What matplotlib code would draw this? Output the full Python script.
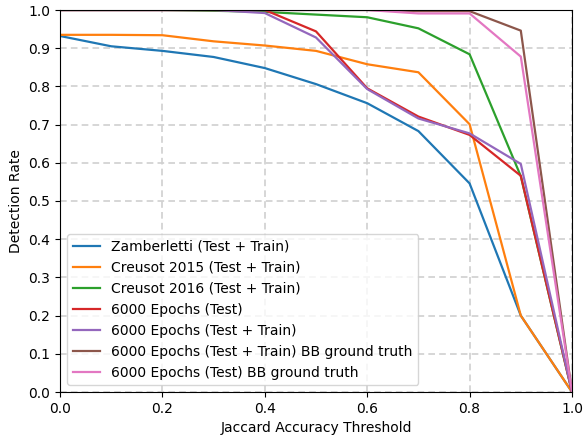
import matplotlib
matplotlib.use("Agg")
import matplotlib.pyplot as plt

thresholds = [0.0, 0.1, 0.2, 0.3, 0.4, 0.5, 0.6, 0.7, 0.8, 0.9, 1.0]

zamberletti = [0.932, 0.905, 0.893, 0.877, 0.848, 0.806, 0.756, 0.683, 0.546, 0.200, 0.0]
creusot2015 = [0.935, 0.935, 0.934, 0.918, 0.907, 0.893, 0.858, 0.837, 0.701, 0.200, 0.0]
creusot2016 = [1.0, 1.0, 1.0, 0.998, 0.995, 0.988, 0.981, 0.952, 0.884, 0.565, 0.0]
ep_test = [1.0, 1.0, 1.0, 1.0, 1.0, 0.944, 0.795, 0.721, 0.673, 0.566, 0.0]
ep_testtrain = [1.0, 1.0, 1.0, 1.0, 0.992, 0.928, 0.793, 0.716, 0.677, 0.597, 0.0]
ep_testtrain_bb = [1.0, 1.0, 1.0, 1.0, 1.0, 1.0, 1.0, 0.997, 0.997, 0.946, 0.0]
ep_test_bb = [1.0, 1.0, 1.0, 1.0, 1.0, 1.0, 1.0, 0.991, 0.991, 0.878, 0.0]

labels = [
    "Zamberletti (Test + Train)",
    "Creusot 2015 (Test + Train)",
    "Creusot 2016 (Test + Train)",
    "6000 Epochs (Test)",
    "6000 Epochs (Test + Train)",
    "6000 Epochs (Test + Train) BB ground truth",
    "6000 Epochs (Test) BB ground truth",
]
series = [zamberletti, creusot2015, creusot2016, ep_test, ep_testtrain, ep_testtrain_bb, ep_test_bb]

fig = plt.figure(figsize=(5.84, 4.41), dpi=100)
ax = fig.add_axes([60/584, 1 - 392/441, 512/584, 382/441])
for s, l in zip(series, labels):
    ax.plot(thresholds, s, label=l, linewidth=1.6)

ax.set_xlim(0, 1)
ax.set_ylim(0, 1)
ax.set_xticks([0.0, 0.2, 0.4, 0.6, 0.8, 1.0])
ax.set_yticks([i / 10 for i in range(11)])
ax.grid(True, linestyle=(0, (4, 2.5)), color="#d0d0d0", linewidth=1.2)
ax.set_axisbelow(True)
ax.set_xlabel("Jaccard Accuracy Threshold")
ax.set_ylabel("Detection Rate")
ax.legend(loc="lower left")
fig.savefig("out.png", dpi=100)
